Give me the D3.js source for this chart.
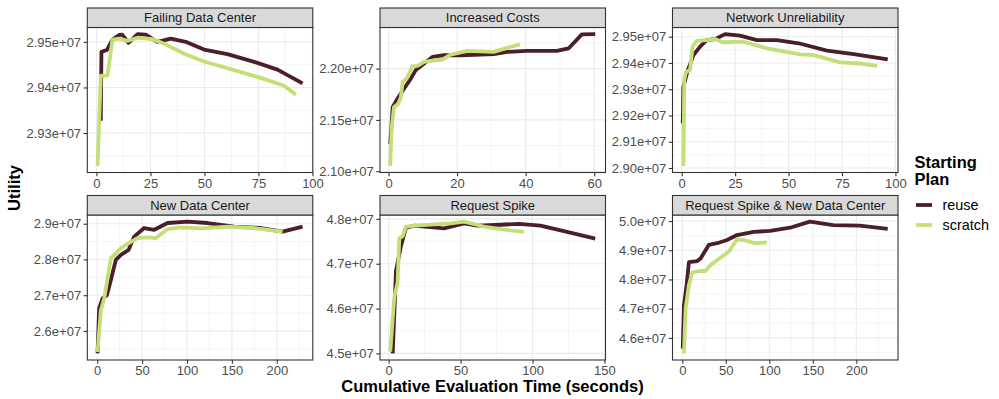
<!DOCTYPE html>
<html>
<head>
<meta charset="utf-8">
<script src="https://cdn.jsdelivr.net/npm/d3@7"></script>
<style>
  body { margin: 0; background: #fff; }
  text { font-family: "Liberation Sans", Arial, sans-serif; }
</style>
</head>
<body>
<svg id="chart" width="999" height="399"></svg>
<script>
const panelNames = ["Failing Data Center", "Increased Costs", "Network Unreliability",
  "New Data Center", "Request Spike", "Request Spike & New Data Center"];
const seriesNames = ["reuse", "scratch"];
const seriesColors = ["#4b1e2a", "#c5df78"];

// Failing Data Center
const fdcReuseT = [2.0, 2.3, 4.8, 7.4, 10.5, 11.9, 14.8, 19, 22.8, 28.2, 34.4, 41.3, 49.8, 60.6, 73, 83.8, 95.4];
const fdcReuseU = [29327000, 29478000, 29482000, 29505000, 29515000, 29516000, 29498000, 29517000, 29516000, 29500000, 29507000, 29500000, 29483000, 29473000, 29456000, 29439000, 29409000];
const fdcScratchT = [0.5, 2, 5.1, 7.4, 10.5, 14.4, 19, 25.9, 31.3, 40.6, 49.8, 63.7, 76, 86.9, 92.3];
const fdcScratchU = [29228000, 29426000, 29426000, 29505000, 29507000, 29502000, 29509000, 29506000, 29496000, 29474000, 29457000, 29438000, 29421000, 29404000, 29384000];

// Increased Costs
const icReuseT = [0.5, 1.2, 2.6, 4.5, 6.5, 7.9, 10.4, 12.8, 16.2, 21, 30.7, 34.6, 40.4, 49.1, 52.5, 56.4, 60.3];
const icReuseU = [21265000, 21624000, 21706000, 21804000, 21902000, 21983000, 22049000, 22114000, 22130000, 22130000, 22140000, 22163000, 22173000, 22173000, 22196000, 22333000, 22336000];
const icScratchT = [0.5, 0.9, 1.6, 2.8, 3.6, 4.1, 5.3, 7, 8.4, 10.4, 13.3, 15.7, 18.1, 23, 30.7, 34.6, 38.3];
const icScratchU = [21052000, 21427000, 21624000, 21657000, 21722000, 21869000, 21902000, 22023000, 22026000, 22065000, 22081000, 22088000, 22137000, 22173000, 22163000, 22202000, 22235000];

// Network Unreliability
const nuReuseT = [0.5, 0.8, 2.6, 5.5, 8.6, 11.7, 15.6, 20.3, 27.3, 35.2, 44.5, 54.7, 68, 80.5, 96.4];
const nuReuseU = [29170000, 29309000, 29366000, 29430000, 29462000, 29487000, 29491000, 29510000, 29504000, 29487000, 29487000, 29475000, 29447000, 29434000, 29414000];
const nuScratchT = [0.8, 1.2, 2, 3.9, 5.1, 7, 11.7, 15.6, 19.2, 28.9, 39.8, 55.5, 61.7, 74.2, 83.6, 91.4];
const nuScratchU = [29008000, 29335000, 29366000, 29373000, 29462000, 29484000, 29487000, 29491000, 29479000, 29481000, 29456000, 29433000, 29430000, 29402000, 29398000, 29389000];

// New Data Center
const ndcReuseT = [0.4, 2.2, 6, 10.8, 15.3, 20.8, 26.4, 35, 41.2, 52.3, 63.5, 78.4, 100.7, 122.9, 152.6, 182.3, 206.5, 228.7];
const ndcReuseU = [25370000, 26630000, 26910000, 27000000, 27430000, 27990000, 28130000, 28270000, 28640000, 28880000, 28830000, 29020000, 29060000, 29020000, 28920000, 28880000, 28780000, 28920000];
const ndcScratchT = [0.4, 4.1, 7.8, 15.3, 18.4, 26.4, 33.9, 45, 56.1, 65.4, 78.4, 93.2, 115.5, 145.2, 174.8, 206.5];
const ndcScratchU = [25410000, 26580000, 26910000, 28040000, 28110000, 28320000, 28440000, 28600000, 28620000, 28600000, 28850000, 28900000, 28870000, 28920000, 28880000, 28780000];

// Request Spike
const rsReuseT = [2.8, 5.1, 8.5, 12, 17.8, 27, 38.5, 52.4, 61.6, 77.8, 90.5, 105.5, 124, 143.6];
const rsReuseU = [45000000, 46840000, 47390000, 47800000, 47850000, 47820000, 47790000, 47900000, 47850000, 47870000, 47890000, 47850000, 47710000, 47560000];
const rsScratchT = [1.1, 3.9, 6.2, 7.4, 9.7, 12, 17.8, 31.6, 43.1, 52.4, 66.2, 77.8, 93.9];
const rsScratchU = [45040000, 46250000, 46580000, 47570000, 47610000, 47820000, 47850000, 47880000, 47900000, 47940000, 47830000, 47770000, 47710000];

// Request Spike & New Data Center
const rsndReuseT = [0.5, 1.9, 4.9, 7.6, 17.1, 21, 30.4, 40, 51.4, 62.9, 81.9, 100.9, 123.8, 146.6, 173.3, 203.8, 236.1];
const rsndReuseU = [45640000, 47120000, 47810000, 48590000, 48630000, 48720000, 49180000, 49240000, 49350000, 49520000, 49630000, 49660000, 49770000, 49980000, 49860000, 49840000, 49730000];
const rsndScratchT = [1.9, 3.8, 7.6, 11.4, 20.9, 26.6, 32.3, 40, 53.3, 62.9, 70.5, 83.8, 97.1];
const rsndScratchU = [45470000, 47010000, 47810000, 48240000, 48290000, 48290000, 48490000, 48660000, 48950000, 49370000, 49350000, 49240000, 49270000];

// tick values per panel
const xTicks = [[0, 25, 50, 75, 100], [0, 20, 40, 60], [0, 25, 50, 75, 100],
  [0, 50, 100, 150, 200], [0, 50, 100, 150], [0, 50, 100, 150, 200]];
const yTicks = [[29300000, 29400000, 29500000], [21000000, 21500000, 22000000],
  [29000000, 29100000, 29200000, 29300000, 29400000, 29500000],
  [26000000, 27000000, 28000000, 29000000], [45000000, 46000000, 47000000, 48000000],
  [46000000, 47000000, 48000000, 49000000, 50000000]];
const yDigits = [2, 2, 2, 1, 1, 1];

const series = [
  [[fdcReuseT, fdcReuseU], [fdcScratchT, fdcScratchU]],
  [[icReuseT, icReuseU], [icScratchT, icScratchU]],
  [[nuReuseT, nuReuseU], [nuScratchT, nuScratchU]],
  [[ndcReuseT, ndcReuseU], [ndcScratchT, ndcScratchU]],
  [[rsReuseT, rsReuseU], [rsScratchT, rsScratchU]],
  [[rsndReuseT, rsndReuseU], [rsndScratchT, rsndScratchU]]
];

const svg = d3.select("#chart");
const colLeft = [87.3, 380, 672.5];
const panelW = 225.5;
const stripTop = [8, 195.5];
const stripH = 19.5;
const panelH = 145;

function sci(v, d) {
  const s = v.toExponential(d);
  const [m, e] = s.split("e");
  const sign = e[0];
  const ex = e.slice(1).padStart(2, "0");
  return m + "e" + sign + ex;
}

function expand(ext) {
  const pad = (ext[1] - ext[0]) * 0.05;
  return [ext[0] - pad, ext[1] + pad];
}

function minors(ticks, domain) {
  const step = ticks[1] - ticks[0];
  const out = [];
  for (let v = ticks[0] - step / 2; v <= domain[1]; v += step) {
    if (v >= domain[0]) out.push(v);
  }
  return out;
}

panelNames.forEach((name, i) => {
  const col = i % 3, row = Math.floor(i / 3);
  const x0 = colLeft[col], y0 = stripTop[row] + stripH;
  const allT = series[i].flatMap(s => s[0]);
  const allU = series[i].flatMap(s => s[1]);
  const x = d3.scaleLinear().domain(expand(d3.extent(allT))).range([x0, x0 + panelW]);
  const y = d3.scaleLinear().domain(expand(d3.extent(allU))).range([y0 + panelH, y0]);

  const g = svg.append("g");
  const clipId = "clip" + i;
  g.append("clipPath").attr("id", clipId).append("rect")
    .attr("x", x0).attr("y", y0).attr("width", panelW).attr("height", panelH);

  const grid = g.append("g").attr("clip-path", `url(#${clipId})`);
  // minor grid
  grid.selectAll(".mx").data(minors(xTicks[i], x.domain())).enter().append("line")
    .attr("x1", d => x(d)).attr("x2", d => x(d)).attr("y1", y0).attr("y2", y0 + panelH)
    .attr("stroke", "#ebebeb").attr("stroke-width", 0.55);
  grid.selectAll(".my").data(minors(yTicks[i], y.domain())).enter().append("line")
    .attr("y1", d => y(d)).attr("y2", d => y(d)).attr("x1", x0).attr("x2", x0 + panelW)
    .attr("stroke", "#ebebeb").attr("stroke-width", 0.55);
  // major grid
  grid.selectAll(".gx").data(xTicks[i]).enter().append("line")
    .attr("x1", d => x(d)).attr("x2", d => x(d)).attr("y1", y0).attr("y2", y0 + panelH)
    .attr("stroke", "#ebebeb").attr("stroke-width", 1.1);
  grid.selectAll(".gy").data(yTicks[i]).enter().append("line")
    .attr("y1", d => y(d)).attr("y2", d => y(d)).attr("x1", x0).attr("x2", x0 + panelW)
    .attr("stroke", "#ebebeb").attr("stroke-width", 1.1);

  const line = d3.line().x(d => x(d[0])).y(d => y(d[1]));
  series[i].forEach((s, k) => {
    const pts = s[0].map((t, j) => [t, s[1][j]]);
    grid.append("path").datum(pts).attr("d", line)
      .attr("fill", "none").attr("stroke", seriesColors[k])
      .attr("stroke-width", 3.8).attr("stroke-linejoin", "round");
  });

  g.append("rect").attr("x", x0).attr("y", y0).attr("width", panelW).attr("height", panelH)
    .attr("fill", "none").attr("stroke", "#333").attr("stroke-width", 1.1);

  // strip
  g.append("rect").attr("x", x0).attr("y", stripTop[row]).attr("width", panelW).attr("height", stripH)
    .attr("fill", "#d9d9d9").attr("stroke", "#333").attr("stroke-width", 1.1);
  g.append("text").attr("x", x0 + panelW / 2).attr("y", stripTop[row] + stripH / 2 + 4.6)
    .attr("text-anchor", "middle").attr("font-size", 13).attr("fill", "#1a1a1a").text(name);

  // axes
  const xa = g.append("g").attr("transform", `translate(0,${y0 + panelH})`)
    .call(d3.axisBottom(x).tickValues(xTicks[i]).tickSize(3.7).tickSizeOuter(0).tickPadding(2.5));
  const ya = g.append("g").attr("transform", `translate(${x0},0)`)
    .call(d3.axisLeft(y).tickValues(yTicks[i]).tickSize(3.7).tickSizeOuter(0).tickPadding(2.5)
      .tickFormat(v => sci(v, yDigits[i])));
  [xa, ya].forEach(a => {
    a.select(".domain").remove();
    a.selectAll(".tick line").attr("stroke", "#333").attr("stroke-width", 1.1);
    a.selectAll(".tick text").attr("fill", "#4d4d4d").attr("font-size", 13)
      .attr("font-family", "Liberation Sans, Arial, sans-serif");
  });
});

// axis titles
svg.append("text").attr("x", 492.5).attr("y", 391.5).attr("text-anchor", "middle")
  .attr("font-size", 16.5).attr("font-weight", "bold").text("Cumulative Evaluation Time (seconds)");
svg.append("text").attr("transform", "translate(20,188) rotate(-90)").attr("text-anchor", "middle")
  .attr("font-size", 16.5).attr("font-weight", "bold").text("Utility");

// legend
const lg = svg.append("g");
lg.append("text").attr("x", 914.5).attr("y", 167.5).attr("font-size", 16.5).attr("font-weight", "bold").text("Starting");
lg.append("text").attr("x", 914.5).attr("y", 185).attr("font-size", 16.5).attr("font-weight", "bold").text("Plan");
seriesNames.forEach((s, k) => {
  const cy = 205 + k * 20;
  lg.append("line").attr("x1", 916).attr("x2", 932).attr("y1", cy).attr("y2", cy)
    .attr("stroke", seriesColors[k]).attr("stroke-width", 3.8);
  lg.append("text").attr("x", 942.5).attr("y", cy + 5).attr("font-size", 14.4).attr("fill", "#000").text(s);
});
</script>
</body>
</html>
